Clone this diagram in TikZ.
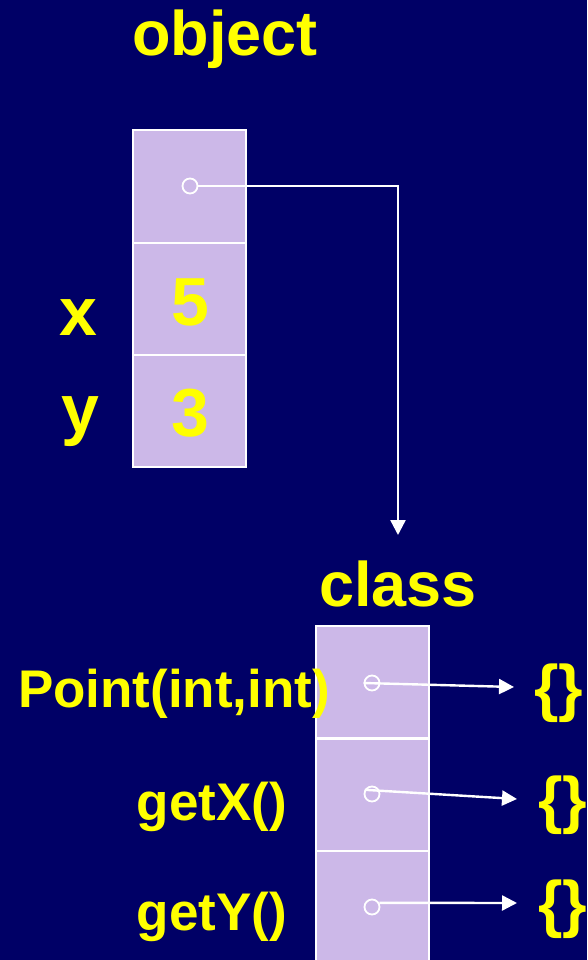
\documentclass[tikz,border=0pt]{standalone}
\usepackage{fontspec}
\setmainfont{Liberation Sans}
\usetikzlibrary{arrows.meta}
\definecolor{slidebg}{RGB}{0,0,102}
\definecolor{cellfill}{RGB}{204,184,232}
\definecolor{lblyellow}{RGB}{255,255,0}

\begin{document}
\begin{tikzpicture}[x=1pt,y=-1pt,
  cell/.style={draw=white,line width=2pt,fill=cellfill,minimum width=113pt,minimum height=112pt,inner sep=0pt,outer sep=0pt},
  refdot/.style={circle,draw=white,line width=1.8pt,minimum size=15pt,inner sep=0pt},
  title/.style={text=lblyellow,font=\bfseries\fontsize{63}{63}\selectfont,inner sep=0pt,anchor=base},
  field/.style={text=lblyellow,font=\bfseries\fontsize{68}{68}\selectfont,inner sep=0pt,anchor=base},
  method/.style={text=lblyellow,font=\bfseries\fontsize{53}{53}\selectfont,inner sep=0pt,anchor=base},
  ptr/.style={white,line width=2.4pt,-{Triangle[length=15pt,width=15pt]}}]
                \clip (0,0) rectangle (587,960);
                \fill[slidebg] (0,0) rectangle (587,960);
                % the object
                \node[title] (objlbl) at (225,56) {object};
                \node[cell] (ohead) at (189.5,186.5) {};
                \node[cell] (ox) at (189.5,299) {};
                \node[cell] (oy) at (189.5,411) {};
                \node[field] (xval) at (190,325) {5};
                \node[field] (yval) at (190,436) {3};
                \node[field] (xlbl) at (78,335) {x};
                \node[field] (ylbl) at (80,432) {y};
                \node[refdot] (oref) at (190,186) {};
                % the class
                \node[title] (clslbl) at (398,606) {class};
                \node[cell] (ctor) at (372,682) {};
                \node[cell] (getx) at (372,794.5) {};
                \node[cell] (gety) at (372,907) {};
                \node[method] (ctorlbl) at (174,707) {Point(int,int)};
                \node[method] (getxlbl) at (212,820) {getX()};
                \node[method] (getylbl) at (212,930) {getY()};
                \node[refdot] (m1ref) at (372,683) {};
                \node[refdot] (m2ref) at (372,794) {};
                \node[refdot] (m3ref) at (372,907) {};
                \node[title] (body1) at (559,709) {\{\}};
                \node[title] (body2) at (563,821) {\{\}};
                \node[title] (body3) at (563,925) {\{\}};
                % pointers
                \coordinate (clsin) at (398,535);
                \coordinate (tip1) at (514,687);
                \coordinate (tip2) at (517,799);
                \coordinate (tip3) at (517,903);
                \draw[ptr] (oref.east) -| (clsin);
                \draw[ptr] (m1ref.west) -- (tip1);
                \draw[ptr] (m2ref.150) -- (tip2);
                \draw[ptr] (m3ref.30) -- (tip3);
\end{tikzpicture}
\end{document}
